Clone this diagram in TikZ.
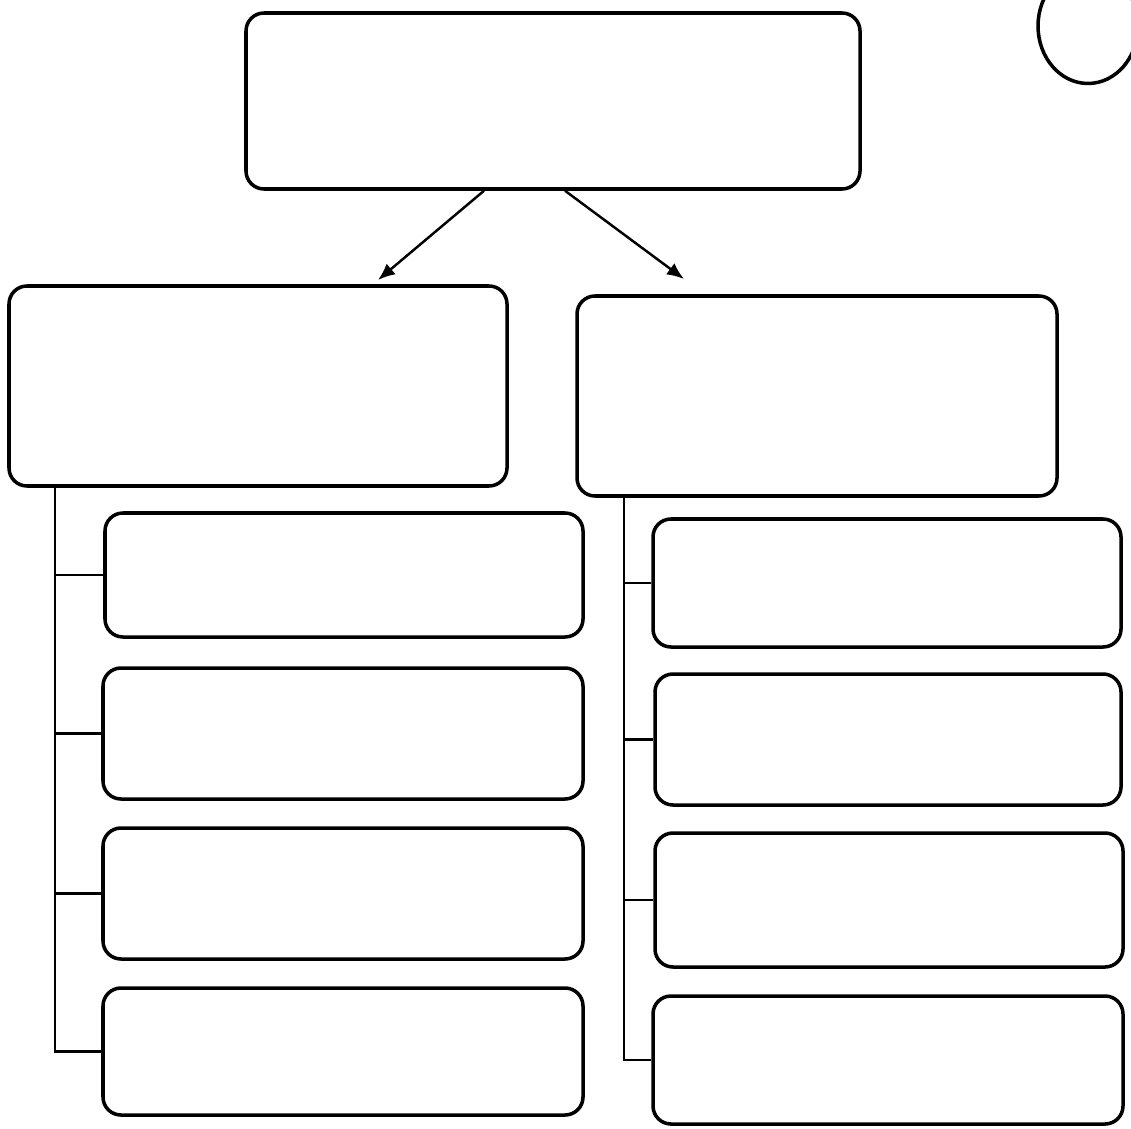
\documentclass[tikz,border=0pt]{standalone}
\usetikzlibrary{arrows.meta,calc,shapes.geometric}
\tikzset{
  boxst/.style={draw=black, line width=2pt, rounded corners=0.36cm, inner sep=0pt, fill=none},
  link/.style={draw=black, line width=1.4pt},
  arr/.style={draw=black, line width=1.4pt, -{Latex[length=0.34cm,width=0.28cm]}},
}
\newcommand{\pbox}[5]{\node[boxst,minimum width={(#4-#2)*0.02cm},minimum height={(#5-#3)*0.02cm}] (#1) at ({(#2+#4)/2},{(#3+#5)/2}) {};}
\begin{document}
\begin{tikzpicture}[x=0.02cm,y=-0.02cm]
\useasboundingbox[fill=white] (0,0) rectangle (1131,1128);
\clip (0,0) rectangle (1131,1128);
\pbox{top}{246}{13}{860}{189}
\pbox{L}{9}{286}{507}{486}
\pbox{R}{577}{296}{1057}{496}
\pbox{L1}{105}{513}{583}{637}
\pbox{L2}{103}{668}{583}{799}
\pbox{L3}{103}{828}{583}{959}
\pbox{L4}{103}{988}{583}{1115}
\pbox{R1}{653}{519}{1121}{647}
\pbox{R2}{655}{674}{1121}{805}
\pbox{R3}{655}{833}{1123}{967}
\pbox{R4}{653}{996}{1123}{1124}
% circle
\node[draw=black, line width=2pt, ellipse, minimum width=2cm, minimum height=2.3cm, inner sep=0pt] (circ) at (1088,26) {};
% arrows
\coordinate (ta) at (378,280);
\coordinate (tb) at (684,279);
\draw[arr] ($(top.south)+(-69,0)$) -- (ta);
\draw[arr] ($(top.south)+(12,0)$) -- (tb);
% left trunk
\coordinate (lb) at (55,0);
\draw[link] (L.south -| lb) |- (L4.west);
\draw[link] (lb |- L1.west) -- (L1.west);
\draw[link] (lb |- L2.west) -- (L2.west);
\draw[link] (lb |- L3.west) -- (L3.west);
% right trunk
\coordinate (rb) at (624,0);
\draw[link] (R.south -| rb) |- (R4.west);
\draw[link] (rb |- R1.west) -- (R1.west);
\draw[link] (rb |- R2.west) -- (R2.west);
\draw[link] (rb |- R3.west) -- (R3.west);
\end{tikzpicture}
\end{document}
